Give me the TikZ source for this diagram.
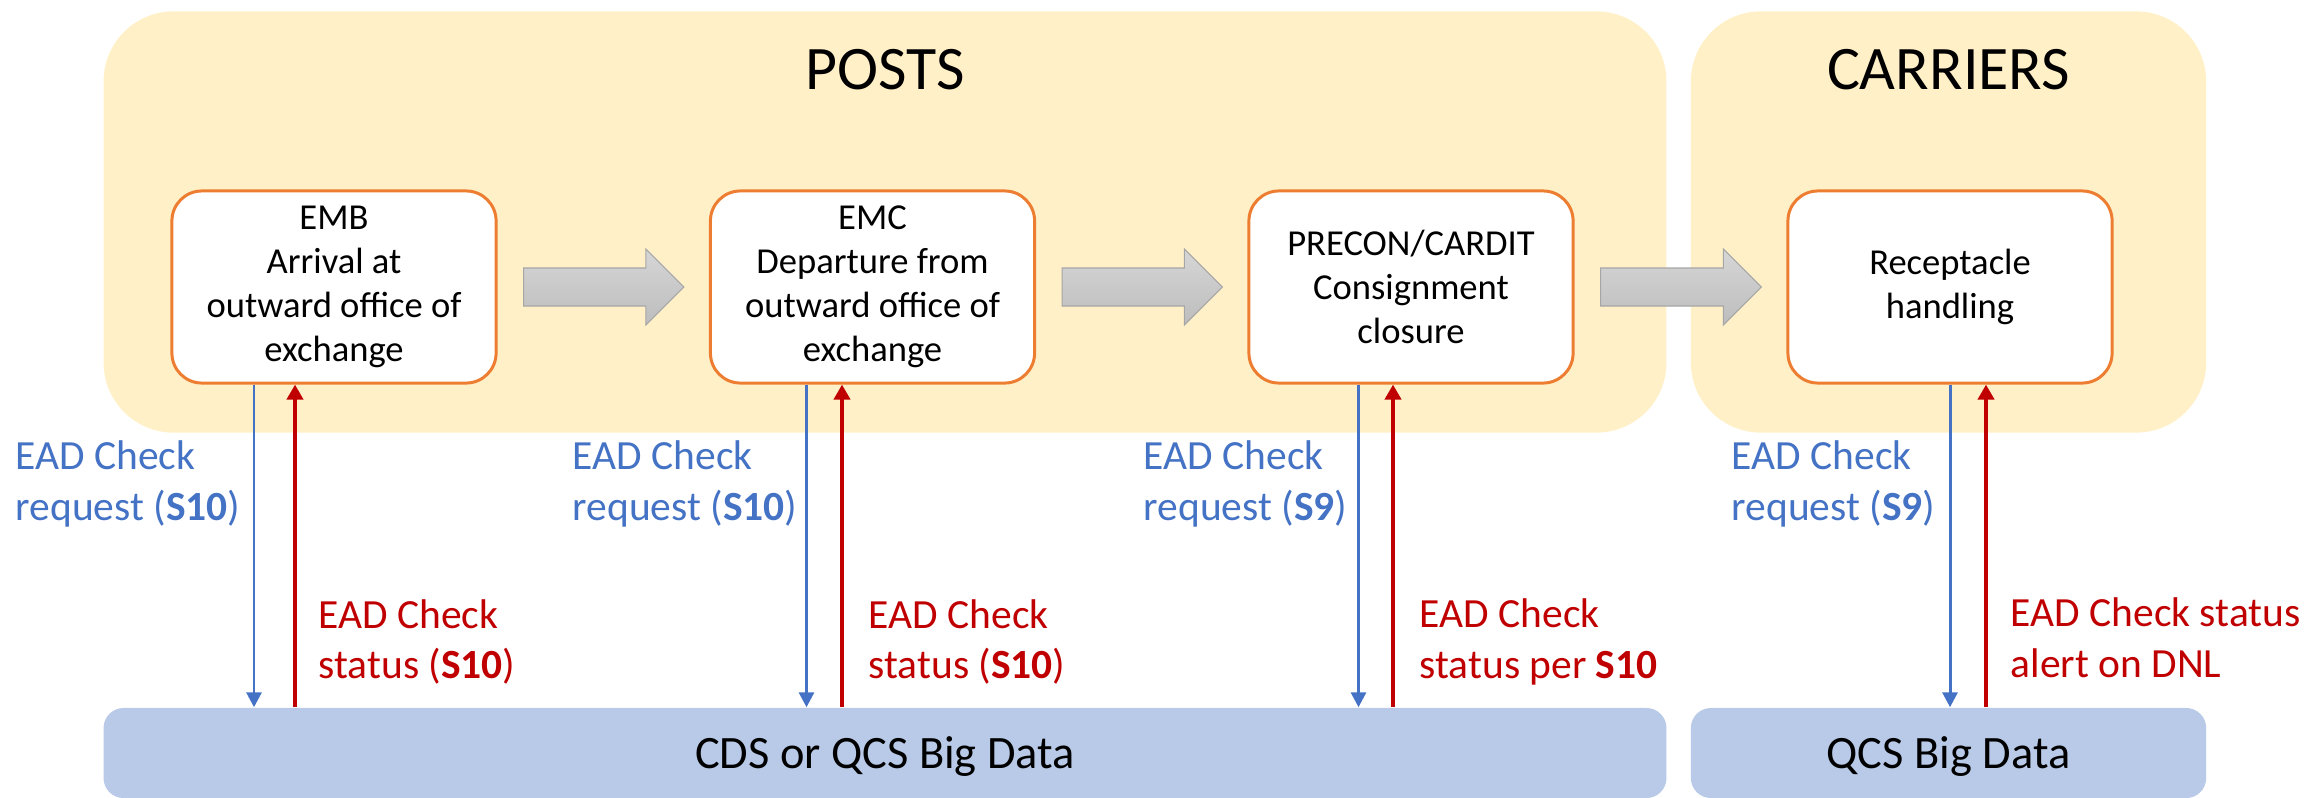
\documentclass[tikz,border=0pt]{standalone}
\usepackage{fontspec}
\setmainfont{Carlito}
\usetikzlibrary{arrows.meta,calc,positioning}
\definecolor{PanelClr}{HTML}{FFF0C8}
\definecolor{StepClr}{HTML}{ED7D31}
\definecolor{DataClr}{HTML}{B8CAE7}
\definecolor{ReqClr}{HTML}{4472C4}
\definecolor{StatClr}{HTML}{C00000}
\definecolor{FlowTopClr}{HTML}{D6D6D6}
\definecolor{FlowBotClr}{HTML}{BDBDBD}
\definecolor{FlowLineClr}{HTML}{A6A6A6}

% fat grey arrow from one step box to the next
\newcommand{\flowarrow}[2]{%
  \shadedraw[flow] ($(#1.east)+(26,-19)$) -- ($(#2.west)+(-63,-19)$)
    -- ($(#2.west)+(-63,-38)$) -- ($(#2.west)+(-25,0)$)
    -- ($(#2.west)+(-63,38)$) -- ($(#2.west)+(-63,19)$)
    -- ($(#1.east)+(26,19)$) -- cycle;}

\begin{document}
\begin{tikzpicture}[x=0.01cm,y=-0.01cm,
  panel/.style={fill=PanelClr,rounded corners=0.7cm,minimum height=4.21cm,inner sep=0pt},
  title/.style={font=\fontsize{17.6}{21}\selectfont,anchor=base,inner sep=0pt},
  stepbox/.style={draw=StepClr,line width=0.85pt,fill=white,rounded corners=0.3cm,
    minimum width=3.24cm,minimum height=1.92cm,align=center,inner sep=0pt,
    font=\fontsize{10.4}{12.5}\selectfont},
  datastore/.style={fill=DataClr,rounded corners=0.2cm,minimum height=0.9cm,inner sep=0pt,
    text height=0.3cm,text depth=0cm,font=\fontsize{13.2}{16}\selectfont},
  flow/.style={top color=FlowTopClr,bottom color=FlowBotClr,draw=FlowLineClr,line width=0.3pt},
  req/.style={ReqClr,line width=0.85pt,-{Triangle[length=0.15cm,width=0.15cm]}},
  stat/.style={StatClr,line width=1.1pt,{Triangle[length=0.15cm,width=0.16cm]}-},
  reqlabel/.style={text=ReqClr,align=left,anchor=west,inner sep=0pt,
    font=\fontsize{11.8}{14.4}\selectfont},
  statlabel/.style={text=StatClr,align=left,anchor=west,inner sep=0pt,
    font=\fontsize{11.8}{14.4}\selectfont}]
\useasboundingbox (0,0) rectangle (2313,797);

% panels
\node[panel,minimum width=15.62cm] (posts) at (885,222) {};
\node[panel,minimum width=5.15cm] (carriers) at (1948.5,222) {};
\node[title] at (885,89) {POSTS};
\node[title] at (1948.5,89) {CARRIERS};

% steps
\node[stepbox] (emb) at (334,287) {EMB\\Arrival at\\outward office of\\exchange};
\node[stepbox] (emc) at (872.5,287) {EMC\\Departure from\\outward office of\\exchange};
\node[stepbox] (precon) at (1411,287) {PRECON/CARDIT\\Consignment\\closure};
\node[stepbox] (recept) at (1950,287) {Receptacle\\handling};

\flowarrow{emb}{emc}
\flowarrow{emc}{precon}
\flowarrow{precon}{recept}

% data stores
\node[datastore,minimum width=15.62cm] (cds) at (885,753) {CDS or QCS Big Data};
\node[datastore,minimum width=5.15cm] (qcs) at (1948.5,753) {QCS Big Data};

% check lanes
\coordinate (embreq) at ($(emb.south)+(-80,0)$);
\coordinate (embstat) at ($(emb.south)+(-39,0)$);
\coordinate (emcreq) at ($(emc.south)+(-66,0)$);
\coordinate (emcstat) at ($(emc.south)+(-30.5,0)$);
\coordinate (preconreq) at ($(precon.south)+(-52.5,0)$);
\coordinate (preconstat) at ($(precon.south)+(-18,0)$);
\coordinate (receptreq) at (recept.south);
\coordinate (receptstat) at ($(recept.south)+(36,0)$);

\draw[req] (embreq) -- (embreq |- cds.north);
\draw[stat] (embstat) -- (embstat |- cds.north);
\draw[req] (emcreq) -- (emcreq |- cds.north);
\draw[stat] (emcstat) -- (emcstat |- cds.north);
\draw[req] (preconreq) -- (preconreq |- cds.north);
\draw[stat] (preconstat) -- (preconstat |- cds.north);
\draw[req] (receptreq) -- (receptreq |- qcs.north);
\draw[stat] (receptstat) -- (receptstat |- qcs.north);

\node[reqlabel] (embreqtxt) at (15,484) {EAD Check\\request (\textbf{S10})};
\node[reqlabel] (emcreqtxt) at (572,484) {EAD Check\\request (\textbf{S10})};
\node[reqlabel] (preconreqtxt) at (1143,484) {EAD Check\\request (\textbf{S9})};
\node[reqlabel] (receptreqtxt) at (1731,484) {EAD Check\\request (\textbf{S9})};

\node[statlabel] (embstattxt) at (318,642) {EAD Check\\status (\textbf{S10})};
\node[statlabel] (emcstattxt) at (868,642) {EAD Check\\status (\textbf{S10})};
\node[statlabel] (preconstattxt) at (1419,642) {EAD Check\\status per \textbf{S10}};
\node[statlabel] (receptstattxt) at (2010,638) {EAD Check status\\alert on DNL};

\end{tikzpicture}
\end{document}
